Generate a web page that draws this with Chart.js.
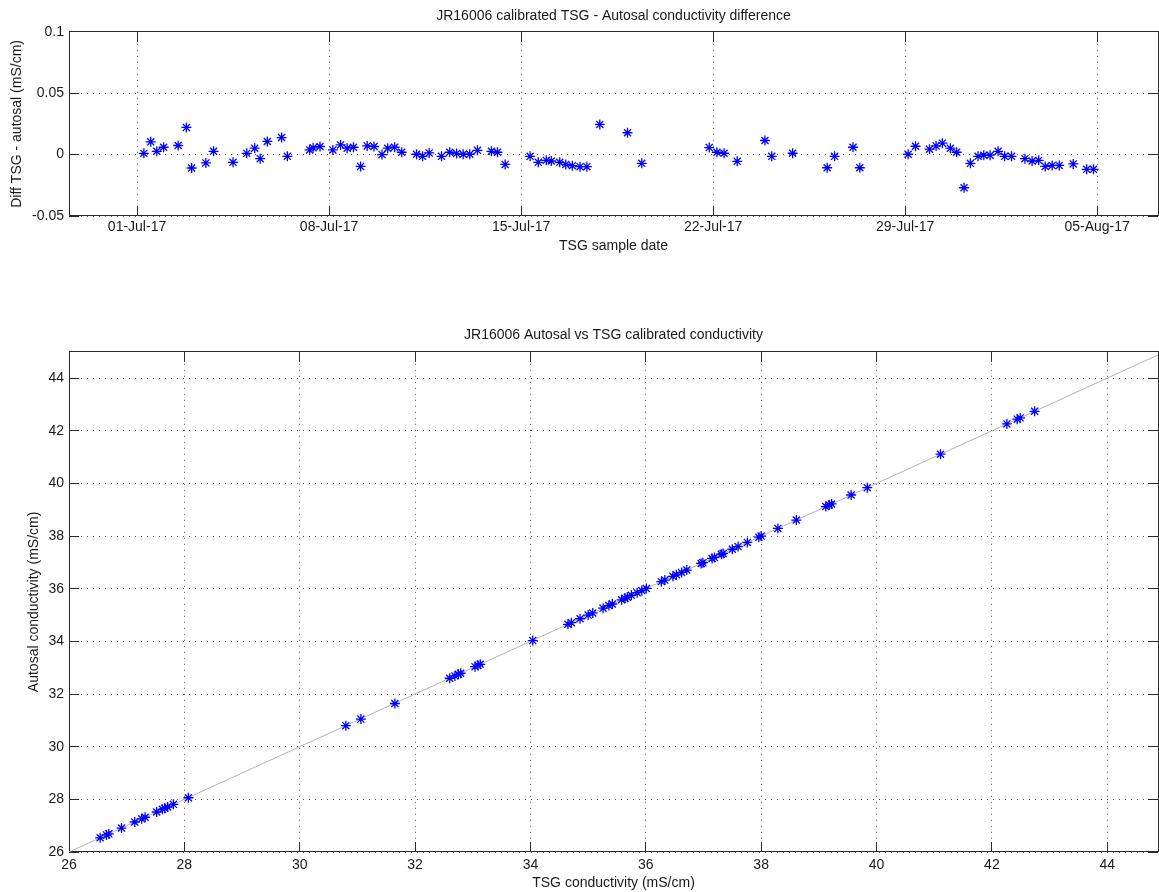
<!DOCTYPE html>
<html>
<head>
<meta charset="utf-8">
<script src="https://cdn.jsdelivr.net/npm/chart.js@4/dist/chart.umd.min.js"></script>
<style>
  html, body { margin: 0; padding: 0; background: #fff; }
  body { width: 1159px; height: 892px; position: relative; overflow: hidden; }
  canvas { position: absolute; left: 0; }
  #diff-chart { top: 0; }
  #scatter-chart { top: 320px; }
</style>
</head>
<body>
<canvas id="diff-chart" width="1159" height="262"></canvas>
<canvas id="scatter-chart" width="1159" height="572"></canvas>
<script>
// ---- Datos

// Dias desde 01-Jul-17 00:00 de cada muestra
const sampleDay = [
  0.25, 0.50, 0.72, 0.97, 1.50, 1.80, 1.99, 2.51, 2.79, 3.50,
  4.00, 4.29, 4.49, 4.75, 5.27, 5.48, 6.29, 6.42, 6.67, 7.14,
  7.42, 7.66, 7.89, 8.15, 8.39, 8.64, 8.93, 9.14, 9.39, 9.65,
  10.19, 10.41, 10.65, 11.10, 11.40, 11.65, 11.89, 12.13, 12.41, 12.92,
  13.14, 13.42, 14.33, 14.63, 14.92, 15.10, 15.41, 15.63, 15.87, 16.15,
  16.40, 16.87, 17.88, 18.40, 20.86, 21.14, 21.40, 21.88, 22.89, 23.14,
  23.90, 25.16, 25.43, 26.10, 26.35, 28.11, 28.38, 28.89, 29.13, 29.36,
  29.65, 29.88, 30.15, 30.38, 30.66, 30.87, 31.10, 31.39, 31.63, 31.88,
  32.37, 32.63, 32.87, 33.11, 33.36, 33.62, 34.13, 34.62, 34.87,
];

// TSG - autosal (mS/cm)
const tsgMinusAutosal = [
  0.0010, 0.0104, 0.0027, 0.0060, 0.0074, 0.0221, -0.0109, -0.0068, 0.0027, -0.0063,
  0.0010, 0.0052, -0.0033, 0.0107, 0.0139, -0.0014, 0.0038, 0.0055, 0.0066, 0.0038,
  0.0079, 0.0052, 0.0060, -0.0096, 0.0071, 0.0066, 0.0000, 0.0052, 0.0060, 0.0019,
  0.0003, -0.0014, 0.0014, -0.0014, 0.0019, 0.0008, 0.0003, 0.0003, 0.0035, 0.0027,
  0.0019, -0.0080, -0.0014, -0.0063, -0.0047, -0.0052, -0.0063, -0.0080, -0.0090, -0.0098,
  -0.0098, 0.0246, 0.0178, -0.0071, 0.0057, 0.0019, 0.0011, -0.0055, 0.0115, -0.0014,
  0.0011, -0.0107, -0.0014, 0.0060, -0.0107, 0.0003, 0.0068, 0.0044, 0.0071, 0.0093,
  0.0052, 0.0019, -0.0270, -0.0071, -0.0014, -0.0005, -0.0005, 0.0027, -0.0014, -0.0014,
  -0.0033, -0.0052, -0.0047, -0.0096, -0.0088, -0.0088, -0.0076, -0.0120, -0.0120,
];

const dateTickDays = [0, 7, 14, 21, 28, 35];
const dateTickLabels = ["01-Jul-17", "08-Jul-17", "15-Jul-17", "22-Jul-17", "29-Jul-17", "05-Aug-17"];
const diffTicks = [-0.05, 0, 0.05, 0.1];
const diffTickLabels = ["-0.05", "0", "0.05", "0.1"];

// Conductividad TSG vs Autosal (mS/cm)
const tsgConductivity = [
  26.54, 26.65, 26.69, 26.91, 27.14, 27.26, 27.32, 27.52, 27.62, 27.66, 27.71, 27.81, 28.07,
  30.80, 31.06, 31.65, 32.60, 32.69, 32.75, 32.79, 33.04, 33.09, 33.13, 34.04,
  34.65, 34.71, 34.86, 35.00, 35.08, 35.26, 35.36, 35.42, 35.58, 35.64, 35.68, 35.75,
  35.85, 35.93, 36.01, 36.27, 36.33, 36.47, 36.53, 36.62, 36.71, 36.96, 36.99, 37.15,
  37.19, 37.31, 37.34, 37.50, 37.60, 37.76, 37.96, 38.00, 38.29, 38.61, 39.12, 39.18,
  39.22, 39.56, 39.84, 41.11, 42.26, 42.44, 42.49, 42.74,
];
const autosalConductivity = [
  26.54, 26.65, 26.69, 26.91, 27.14, 27.26, 27.32, 27.52, 27.62, 27.66, 27.71, 27.81, 28.06,
  30.80, 31.05, 31.64, 32.60, 32.69, 32.75, 32.79, 33.04, 33.09, 33.13, 34.03,
  34.65, 34.71, 34.86, 35.00, 35.08, 35.26, 35.36, 35.42, 35.58, 35.64, 35.68, 35.75,
  35.85, 35.93, 36.01, 36.27, 36.33, 36.47, 36.53, 36.62, 36.71, 36.96, 36.99, 37.15,
  37.19, 37.31, 37.34, 37.50, 37.60, 37.76, 37.96, 38.00, 38.29, 38.61, 39.12, 39.18,
  39.22, 39.56, 39.84, 41.11, 42.26, 42.44, 42.49, 42.74,
];
const conductivityTicks = [26, 28, 30, 32, 34, 36, 38, 40, 42, 44];
const oneToOne = [26, 45];

// ---- Estilo tipo MATLAB

Chart.defaults.font.family = "'Liberation Sans', Arial, sans-serif";
Chart.defaults.font.size = 14;
Chart.defaults.color = "#1a1a1a";

const TICK_LEN = 10;
const align = (px) => Math.round(px - 0.5) + 0.5;

// Caja completa y marcas hacia dentro en los cuatro lados
const matlabBox = {
  id: "matlabBox",
  beforeDatasetsDraw(chart) {
    const { ctx, chartArea: a, scales } = chart;
    ctx.save();
    ctx.strokeStyle = "#2b2b2b";
    ctx.lineWidth = 1;
    ctx.beginPath();
    for (const t of scales.x.ticks) {
      const px = align(scales.x.getPixelForValue(t.value));
      ctx.moveTo(px, a.bottom);
      ctx.lineTo(px, a.bottom - TICK_LEN);
      ctx.moveTo(px, a.top);
      ctx.lineTo(px, a.top + TICK_LEN);
    }
    for (const t of scales.y.ticks) {
      const py = align(scales.y.getPixelForValue(t.value));
      ctx.moveTo(a.left, py);
      ctx.lineTo(a.left + TICK_LEN, py);
      ctx.moveTo(a.right, py);
      ctx.lineTo(a.right - TICK_LEN, py);
    }
    ctx.stroke();
    ctx.strokeRect(align(a.left), align(a.top), Math.round(a.right - a.left), Math.round(a.bottom - a.top));
    ctx.restore();
  },
};

const dotted = {
  grid: { color: "#555", lineWidth: 1, drawTicks: false },
  border: { display: false, dash: [1, 5] },
};

const starStyle = {
  pointStyle: "star",
  pointRadius: 5,
  borderColor: "#0000ff",
  backgroundColor: "#0000ff",
  borderWidth: 1.3,
  showLine: false,
};

// ---- Grafica superior: diferencia vs fecha

new Chart(document.querySelector("#diff-chart"), {
  type: "scatter",
  data: {
    datasets: [
      {
        label: "TSG - autosal",
        data: sampleDay.map((d, i) => ({ x: d, y: tsgMinusAutosal[i] })),
        ...starStyle,
      },
    ],
  },
  options: {
    responsive: false,
    animation: false,
    events: [],
    layout: { autoPadding: false, padding: { left: 0, right: 1, top: 0, bottom: 0 } },
    plugins: {
      legend: { display: false },
      tooltip: { enabled: false },
      title: {
        display: true,
        fullSize: false,
        text: "JR16006 calibrated TSG - Autosal conductivity difference",
        font: { size: 14, weight: "normal" },
        color: "#1a1a1a",
        padding: { top: 8, bottom: 7 },
      },
    },
    scales: {
      x: {
        type: "linear",
        min: -2.48,
        max: 37.22,
        ...dotted,
        afterBuildTicks: (s) => { s.ticks = dateTickDays.map((v) => ({ value: v })); },
        afterFit: (s) => { s.height = 46; },
        ticks: { padding: 3, maxRotation: 0, callback: (v, i) => dateTickLabels[i] },
        title: { display: true, text: "TSG sample date", font: { size: 14 }, padding: { top: 0, bottom: 7 } },
      },
      y: {
        type: "linear",
        min: -0.05,
        max: 0.1,
        ...dotted,
        afterBuildTicks: (s) => { s.ticks = diffTicks.map((v) => ({ value: v })); },
        afterFit: (s) => { s.width = 69; },
        ticks: { padding: 5, callback: (v, i) => diffTickLabels[i] },
        title: { display: true, text: "Diff TSG - autosal (mS/cm)", font: { size: 14 }, padding: { top: 9, bottom: 0 } },
      },
    },
  },
  plugins: [matlabBox],
});

// ---- Grafica inferior: Autosal vs TSG

new Chart(document.querySelector("#scatter-chart"), {
  type: "scatter",
  data: {
    datasets: [
      {
        label: "Autosal vs TSG",
        data: tsgConductivity.map((x, i) => ({ x, y: autosalConductivity[i] })),
        ...starStyle,
        order: 1,
      },
      {
        type: "line",
        label: "1:1",
        data: oneToOne.map((v) => ({ x: v, y: v })),
        borderColor: "#b4b4b4",
        borderWidth: 1,
        pointRadius: 0,
        order: 2,
      },
    ],
  },
  options: {
    responsive: false,
    animation: false,
    events: [],
    layout: { autoPadding: false, padding: { left: 0, right: 1, top: 0, bottom: 0 } },
    plugins: {
      legend: { display: false },
      tooltip: { enabled: false },
      title: {
        display: true,
        fullSize: false,
        text: "JR16006 Autosal vs TSG calibrated conductivity",
        font: { size: 14, weight: "normal" },
        color: "#1a1a1a",
        padding: { top: 7, bottom: 8 },
      },
    },
    scales: {
      x: {
        type: "linear",
        min: 26,
        max: 44.88,
        ...dotted,
        afterBuildTicks: (s) => { s.ticks = conductivityTicks.map((v) => ({ value: v })); },
        afterFit: (s) => { s.height = 40; },
        ticks: { padding: 5, maxRotation: 0, callback: (v) => `${v}` },
        title: { display: true, text: "TSG conductivity (mS/cm)", font: { size: 14 }, padding: { top: 0, bottom: 0 } },
      },
      y: {
        type: "linear",
        min: 26,
        max: 45,
        ...dotted,
        afterBuildTicks: (s) => { s.ticks = conductivityTicks.map((v) => ({ value: v })); },
        afterFit: (s) => { s.width = 69; },
        ticks: { padding: 5, callback: (v) => `${v}` },
        title: { display: true, text: "Autosal conductivity (mS/cm)", font: { size: 14 }, padding: { top: 26, bottom: 0 } },
      },
    },
  },
  plugins: [matlabBox],
});
</script>
</body>
</html>
